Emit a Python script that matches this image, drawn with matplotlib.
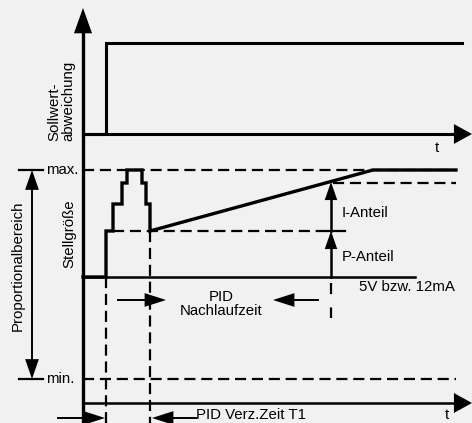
import matplotlib
matplotlib.use("Agg")
import matplotlib.pyplot as plt

# schematic in pixel units of the 472x423 picture (y grows downward)
AXIS_X = 83
T1_Y = 134            # upper time axis (Sollwertabweichung)
T2_Y = 403            # lower time axis
STEP_T = 106          # time of the setpoint jump
STEP_HIGH = 43        # Sollwertabweichung after the jump

# Stellgroesse levels
Y_MAX = 170
Y_MIN = 379
Y_BASE = 277          # 5V bzw. 12mA
Y_P = 231             # P-Anteil level
Y_I = 182             # level where the I-Anteil is marked

# D-kick staircase (rise / fall edges)
STAIR_UP_X = [106, 113, 122, 127]
STAIR_DN_X = [137, 142, 146, 150]
STAIR_Y = [231, 204, 183, 170]

RAMP_END = 373        # ramp reaches max
T_MARK = 331          # end of PID Nachlaufzeit
X_END = 456

BG = "#f1f1f1"
DASH = (0, (5, 2.6))


def arrow(ax, tip, tail, lw=1.6, ms=11, hl=1.0, hw=0.36):
    ax.annotate("", xy=tip, xytext=tail,
                arrowprops=dict(arrowstyle=f"-|>,head_length={hl},head_width={hw}",
                                lw=lw, color="black", mutation_scale=ms,
                                shrinkA=0, shrinkB=0))


plt.rcParams["font.family"] = ["Liberation Sans", "DejaVu Sans"]
fs = 10.8

fig = plt.figure(figsize=(4.72, 4.23), dpi=100, facecolor=BG)
ax = fig.add_axes([0, 0, 1, 1])
ax.set_xlim(0, 472)
ax.set_ylim(423, 0)
ax.axis("off")
ax.set_facecolor(BG)

# vertical axis and two time axes
ax.plot([AXIS_X, AXIS_X], [423, 25], color="black", lw=2.4)
arrow(ax, (AXIS_X, 8), (AXIS_X, 26), lw=0, ms=13, hl=1.4, hw=0.5)
ax.plot([AXIS_X, 460], [T1_Y, T1_Y], color="black", lw=2.2)
arrow(ax, (472, T1_Y), (459, T1_Y), lw=0, ms=13, hl=1.0, hw=0.55)
ax.plot([AXIS_X, 460], [T2_Y, T2_Y], color="black", lw=1.8)
arrow(ax, (472, T2_Y), (459, T2_Y), lw=0, ms=13, hl=1.0, hw=0.55)

# Sollwertabweichung step
ax.plot([AXIS_X, STEP_T, STEP_T, 462], [T1_Y, T1_Y, STEP_HIGH, STEP_HIGH],
        color="black", lw=2.2, solid_joinstyle="miter")

# max / min dashed lines with ticks
for y, lab in [(Y_MAX, "max."), (Y_MIN, "min.")]:
    ax.plot([AXIS_X, X_END], [y, y], color="black", lw=1.6, ls=DASH)
    ax.plot([19, 43], [y, y], color="black", lw=1.6)
    ax.text(46, y, lab, fontsize=fs, va="center", ha="left")
# Proportionalbereich double arrow
ax.plot([32, 32], [182, 367], color="black", lw=1.4)
arrow(ax, (32, Y_MAX), (32, 186), lw=0, ms=11, hl=1.3, hw=0.45)
arrow(ax, (32, Y_MIN), (32, 363), lw=0, ms=11, hl=1.3, hw=0.45)
ax.text(18, 266, "Proportionalbereich", rotation=90, fontsize=fs,
        ha="center", va="center")
ax.text(69, 234, "Stellgröße", rotation=90, fontsize=fs,
        ha="center", va="center")
ax.text(61, 141, "Sollwert-\nabweichung", rotation=90, fontsize=fs,
        ha="center", va="bottom", multialignment="left", linespacing=1.0)

# baseline 5V bzw. 12mA
ax.plot([AXIS_X, 415], [Y_BASE, Y_BASE], color="black", lw=1.8)
ax.text(359, 287, "5V bzw. 12mA", fontsize=fs, va="center", ha="left")

# Stellgroesse: staircase then ramp
xs = [AXIS_X, STAIR_UP_X[0]]
ys = [Y_BASE, Y_BASE]
for x, y in zip(STAIR_UP_X, STAIR_Y):
    xs += [x, x]
    ys += [ys[-1], y]
for x, y in zip(STAIR_DN_X, STAIR_Y[::-1]):
    xs += [x, x]
    ys += [ys[-1], y]
xs += [RAMP_END, X_END]
ys += [Y_MAX, Y_MAX]
ax.plot(xs, ys, color="black", lw=2.4, solid_joinstyle="miter")

# P level / I level dashed helpers
ax.plot([113, T_MARK - 4], [Y_P, Y_P], color="black", lw=1.6, ls=DASH)
ax.plot([T_MARK - 4, 345], [Y_P, Y_P], color="black", lw=1.6)
ax.plot([T_MARK + 2, X_END], [Y_I + 1, Y_I + 1], color="black", lw=1.6, ls=DASH)

# vertical dashed markers
ax.plot([STEP_T, STEP_T], [Y_BASE, 423], color="black", lw=1.6, ls=DASH)
ax.plot([STAIR_DN_X[-1]] * 2, [Y_P, 423], color="black", lw=1.6, ls=DASH)
ax.plot([T_MARK, T_MARK], [Y_BASE + 6, 318], color="black", lw=1.6, ls=(0, (5, 6)))

# P-Anteil and I-Anteil arrows
ax.plot([T_MARK, T_MARK], [Y_BASE, Y_P + 12], color="black", lw=1.8)
arrow(ax, (T_MARK, Y_P), (T_MARK, Y_P + 13), lw=0, ms=10, hl=1.3, hw=0.45)
ax.plot([T_MARK, T_MARK], [Y_P, Y_I + 12], color="black", lw=1.8)
arrow(ax, (T_MARK, Y_I), (T_MARK, Y_I + 13), lw=0, ms=10, hl=1.3, hw=0.45)
ax.text(342, 213, "I-Anteil", fontsize=fs, va="center", ha="left")
ax.text(342, 257, "P-Anteil", fontsize=fs, va="center", ha="left")

# PID Nachlaufzeit
ax.plot([118, 150], [300, 300], color="black", lw=1.4)
arrow(ax, (166, 300), (149, 300), lw=0, ms=11, hl=1.4, hw=0.45)
ax.plot([290, 318], [300, 300], color="black", lw=1.4)
arrow(ax, (273, 300), (291, 300), lw=0, ms=11, hl=1.4, hw=0.45)
ax.text(221, 304, "PID\nNachlaufzeit", fontsize=fs, ha="center", va="center",
        linespacing=1.0)

# PID Verz.Zeit T1
ax.plot([58, 88], [418, 418], color="black", lw=1.4)
arrow(ax, (105, 418), (87, 418), lw=0, ms=11, hl=1.4, hw=0.45)
ax.plot([170, 196], [418, 418], color="black", lw=1.4)
arrow(ax, (152, 418), (170, 418), lw=0, ms=11, hl=1.4, hw=0.45)
ax.text(196, 422, "PID Verz.Zeit T1", fontsize=fs, ha="left", va="bottom")

# t labels
ax.text(437, 148, "t", fontsize=fs, ha="center", va="center")
ax.text(447, 422, "t", fontsize=fs, ha="center", va="bottom")

fig.savefig("out.png", dpi=100, facecolor=BG)
